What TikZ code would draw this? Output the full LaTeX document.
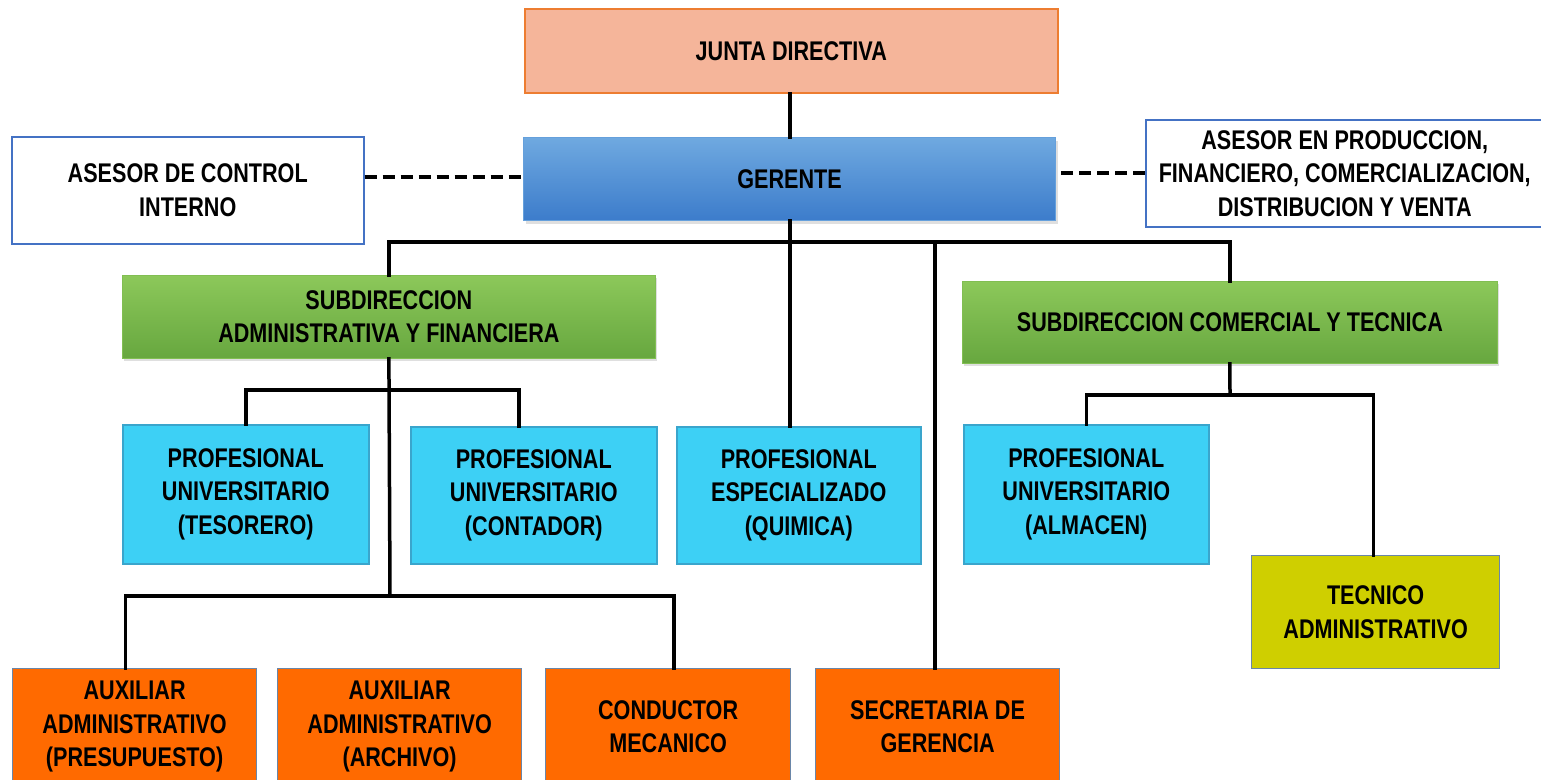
\documentclass[tikz,border=0pt]{standalone}
\usepackage{fontspec}
\setmainfont{Liberation Sans}[FakeStretch=0.8]
\usetikzlibrary{calc,shadows}
\definecolor{juntafill}{HTML}{F5B59A}
\definecolor{juntaline}{HTML}{ED7D31}
\definecolor{gertop}{HTML}{6FA9E0}
\definecolor{gerbot}{HTML}{3C7CCB}
\definecolor{advline}{HTML}{4472C4}
\definecolor{grtop}{HTML}{8CC85A}
\definecolor{grbot}{HTML}{67A73F}
\definecolor{cyanfill}{HTML}{3DD0F5}
\definecolor{cyanline}{HTML}{3AA5CC}
\definecolor{orfill}{HTML}{FF6A00}
\definecolor{orline}{HTML}{6A86A8}
\definecolor{tecfill}{HTML}{CFCF00}
\tikzset{
  box/.style={anchor=north west, inner sep=0pt, align=center,
    font=\fontsize{27}{33.5}\selectfont\bfseries, text=black},
  junta/.style={box, fill=juntafill, draw=juntaline, line width=1.5pt},
  gerente/.style={box, top color=gertop, bottom color=gerbot, draw=gertop!80!gerbot, line width=1pt,
    drop shadow={opacity=0.25, shadow xshift=2pt, shadow yshift=-3pt}},
  advisor/.style={box, fill=white, draw=advline, line width=1.5pt},
  subdir/.style={box, top color=grtop, bottom color=grbot, draw=grtop!70!grbot, line width=0.8pt,
    drop shadow={opacity=0.25, shadow xshift=2pt, shadow yshift=-3pt}},
  prof/.style={box, fill=cyanfill, draw=cyanline, line width=1.5pt},
  aux/.style={box, fill=orfill, draw=orline, line width=1.2pt},
  tec/.style={box, fill=tecfill, draw=orline, line width=1.2pt},
  link/.style={line width=3.5pt, line cap=rect},
  dashlink/.style={line width=4pt, dash pattern=on 12pt off 6pt}
}
\begin{document}
\begin{tikzpicture}[x=1pt,y=-1pt]
\useasboundingbox (0,0) rectangle (1541,779);
\clip (0,0) rectangle (1541,779);
\fill[white] (0,0) rectangle (1541,779);

\node[junta, minimum width=533pt, minimum height=84pt] (junta) at (524,8) {JUNTA DIRECTIVA};
\node[gerente, minimum width=532pt, minimum height=83pt] (gerente) at (523,137) {GERENTE};
\node[advisor, minimum width=352pt, minimum height=107pt] (aci) at (11,136) {ASESOR DE CONTROL\\INTERNO};
\node[advisor, minimum width=420pt, minimum height=107pt] (ap) at (1145,119) {\hspace*{-22pt}ASESOR EN PRODUCCION,\\\hspace*{-22pt}FINANCIERO, COMERCIALIZACION,\\\hspace*{-22pt}DISTRIBUCION Y VENTA};

\node[subdir, minimum width=533pt, minimum height=83pt] (subadm) at (122,275) {SUBDIRECCION\\ADMINISTRATIVA Y FINANCIERA};
\node[subdir, minimum width=535pt, minimum height=82pt] (subcom) at (962,281) {SUBDIRECCION COMERCIAL Y TECNICA};

\node[prof, minimum width=246pt, minimum height=139pt] (tes) at (122,424) {PROFESIONAL\\UNIVERSITARIO\\(TESORERO)};
\node[prof, minimum width=246pt, minimum height=137pt] (con) at (410,426) {PROFESIONAL\\UNIVERSITARIO\\(CONTADOR)};
\node[prof, minimum width=244pt, minimum height=137pt] (qui) at (676,426) {PROFESIONAL\\ESPECIALIZADO\\(QUIMICA)};
\node[prof, minimum width=245pt, minimum height=139pt] (alm) at (963,424) {PROFESIONAL\\UNIVERSITARIO\\(ALMACEN)};
\node[tec, minimum width=248pt, minimum height=113pt] (tec) at (1251,555) {TECNICO\\ADMINISTRATIVO};

\node[aux, minimum width=244pt, minimum height=116pt] (pre) at (12,668) {AUXILIAR\\ADMINISTRATIVO\\(PRESUPUESTO)};
\node[aux, minimum width=244pt, minimum height=116pt] (arc) at (277,668) {AUXILIAR\\ADMINISTRATIVO\\(ARCHIVO)};
\node[aux, minimum width=245pt, minimum height=116pt] (cond) at (545,668) {CONDUCTOR\\MECANICO};
\node[aux, minimum width=244pt, minimum height=116pt] (sec) at (815,668) {SECRETARIA DE\\GERENCIA};

\coordinate (bus) at (790,242);
\coordinate (profbus) at (390,390);
\coordinate (auxbus) at (390,596);
\coordinate (combus) at (1230,395);

\draw[link] (junta.south -| bus) -- (gerente.north -| bus);
\draw[dashlink] (aci.east |- 0,177) -- (gerente.west |- 0,177);
\draw[dashlink] (ap.west |- 0,173) -- (gerente.east |- 0,173);
\draw[link] (gerente.south -| bus) -- (qui.north -| bus);
\draw[link] (subadm.north) |- (bus) -| (subcom.north);
\draw[link] (sec.north -| 935,0) -- (bus -| 935,0);
\draw[link] (subadm.south) -- (auxbus);
\draw[link] (tes.north) |- (profbus) -| ($(con.north)+(-15,0)$);
\draw[link] ($(pre.north)+(-9,0)$) |- (auxbus) -| ($(cond.north)+(6,0)$);
\draw[link] ($(arc.north)+(-6,0)$) -- ($(arc.north)+(-6,0)$ |- auxbus);
\draw[link] (subcom.south) -- (combus);
\draw[link] (alm.north) |- (combus) -| ($(tec.north)+(-2,0)$);
\end{tikzpicture}
\end{document}
